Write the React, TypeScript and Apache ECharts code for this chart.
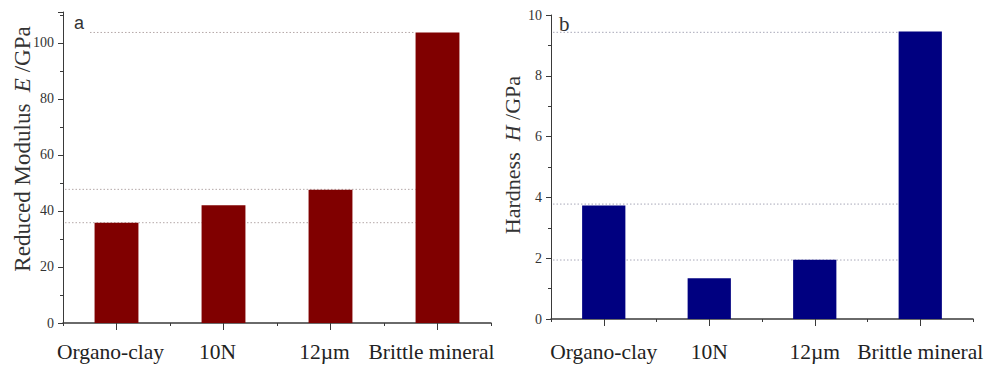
import React, { useEffect, useRef } from "react";
import * as echarts from "echarts";

const categories = ["Organo-clay", "10N", "12µm", "Brittle mineral"];
const modulusValues = [35.8, 42.0, 47.6, 103.7];
const hardnessValues = [3.73, 1.34, 1.95, 9.46];
const modulusGuides = [103.7, 47.7, 35.8];
const hardnessGuides = [9.43, 3.78, 1.94];
const modulusTitle = "Reduced Modulus  {i|E} /GPa";
const hardnessTitle = "Hardness  {i|H} /GPa";
const panelLabels = ["a", "b"];

const SERIF = "Liberation Serif";
const SANS = "Liberation Sans";
const AXIS_COLOR = "#3a3a3a";

function yAxis(gridIndex: number, max: number, interval: number, hideMax: boolean) {
  return {
    type: "value",
    gridIndex,
    min: 0,
    max,
    interval,
    axisLine: { show: true, lineStyle: { color: AXIS_COLOR, width: 1 } },
    axisTick: { show: true, inside: false, length: 5, lineStyle: { color: AXIS_COLOR } },
    minorTick: { show: true, splitNumber: 2, length: 3, lineStyle: { color: AXIS_COLOR } },
    splitLine: { show: false },
    axisLabel: {
      fontFamily: SERIF,
      fontSize: 14,
      color: "#333",
      margin: 9,
      showMaxLabel: !hideMax,
    },
  };
}

function xAxisMain(gridIndex: number, margin: number, padRight: number) {
  return {
    type: "category",
    gridIndex,
    data: categories,
    axisLine: { show: true, lineStyle: { color: AXIS_COLOR, width: 1.5 } },
    axisTick: { show: true, alignWithLabel: true, length: 7, lineStyle: { color: AXIS_COLOR } },
    axisLabel: {
      fontFamily: SERIF,
      fontSize: 21.5,
      color: "#222",
      margin,
      interval: 0,
      padding: [0, padRight, 0, 0],
    },
  };
}

function xAxisMinor(gridIndex: number) {
  return {
    type: "category",
    gridIndex,
    data: categories,
    position: "bottom",
    axisLine: { show: false },
    axisTick: { show: true, alignWithLabel: false, length: 3, lineStyle: { color: AXIS_COLOR } },
    axisLabel: { show: false },
  };
}

export default function App() {
  const ref = useRef<HTMLDivElement>(null);
  useEffect(() => {
    if (!ref.current) return;
    const chart = echarts.init(ref.current, null, { renderer: "svg" });
    const option: any = {
      animation: false,
      backgroundColor: "#ffffff",
      textStyle: { fontFamily: SERIF },
      grid: [
        { left: 63, right: 506, top: 12, bottom: 48 },
        { left: 551, right: 24, top: 15, bottom: 52 },
      ],
      xAxis: [xAxisMain(0, 18, 12), xAxisMain(1, 22, 0), xAxisMinor(0), xAxisMinor(1)],
      yAxis: [yAxis(0, 111, 20, true), yAxis(1, 10, 2, false)],
      series: [
        {
          type: "bar",
          xAxisIndex: 0,
          yAxisIndex: 0,
          data: modulusValues,
          barWidth: "41%",
          itemStyle: { color: "#800000" },
          z: 3,
        },
        {
          type: "bar",
          xAxisIndex: 1,
          yAxisIndex: 1,
          data: hardnessValues,
          barWidth: "41%",
          itemStyle: { color: "#000080" },
          z: 3,
        },
      ],
    };
    chart.setOption(option);

    const graphics: any[] = [];
    const addGuides = (axisIdx: number, guides: number[], starts: number[], color: string) => {
      const c3 = chart.convertToPixel({ xAxisIndex: axisIdx }, 3) as number;
      const c2 = chart.convertToPixel({ xAxisIndex: axisIdx }, 2) as number;
      const band = c3 - c2;
      const xEnd = c3 - (band * 0.41) / 2;
      guides.forEach((g, i) => {
        const y = chart.convertToPixel({ yAxisIndex: axisIdx }, g) as number;
        graphics.push({
          type: "line",
          z: 1,
          silent: true,
          shape: { x1: starts[i], y1: y, x2: xEnd, y2: y },
          style: { stroke: color, lineWidth: 1, lineDash: [1.5, 2] },
        });
      });
    };
    addGuides(0, modulusGuides, [90, 65, 65], "#b4a8a8");
    addGuides(1, hardnessGuides, [553, 553, 553], "#a8a8b8");

    const titleRich = (size: number) => ({
      i: { fontFamily: SERIF, fontSize: size, fontStyle: "italic", fill: "#333" },
    });
    graphics.push({
      type: "text",
      x: 22,
      y: 149,
      rotation: Math.PI / 2,
      style: {
        text: modulusTitle,
        fontFamily: SERIF,
        fontSize: 23,
        fill: "#333",
        align: "center",
        verticalAlign: "middle",
        rich: titleRich(23),
      },
    });
    graphics.push({
      type: "text",
      x: 512,
      y: 155,
      rotation: Math.PI / 2,
      style: {
        text: hardnessTitle,
        fontFamily: SERIF,
        fontSize: 22,
        fill: "#333",
        align: "center",
        verticalAlign: "middle",
        rich: titleRich(22),
      },
    });
    graphics.push({
      type: "text",
      x: 74,
      y: 32,
      style: {
        text: panelLabels[0],
        fontFamily: SANS,
        fontSize: 18,
        fill: "#333",
        align: "left",
        verticalAlign: "bottom",
      },
    });
    graphics.push({
      type: "text",
      x: 559,
      y: 34,
      style: {
        text: panelLabels[1],
        fontFamily: SERIF,
        fontSize: 21,
        fill: "#333",
        align: "left",
        verticalAlign: "bottom",
      },
    });
    chart.setOption({ graphic: graphics });

    return () => chart.dispose();
  }, []);
  return (
    <div
      ref={ref}
      style={{ position: "fixed", left: 0, top: 0, width: 997, height: 371, background: "#fff" }}
    />
  );
}
